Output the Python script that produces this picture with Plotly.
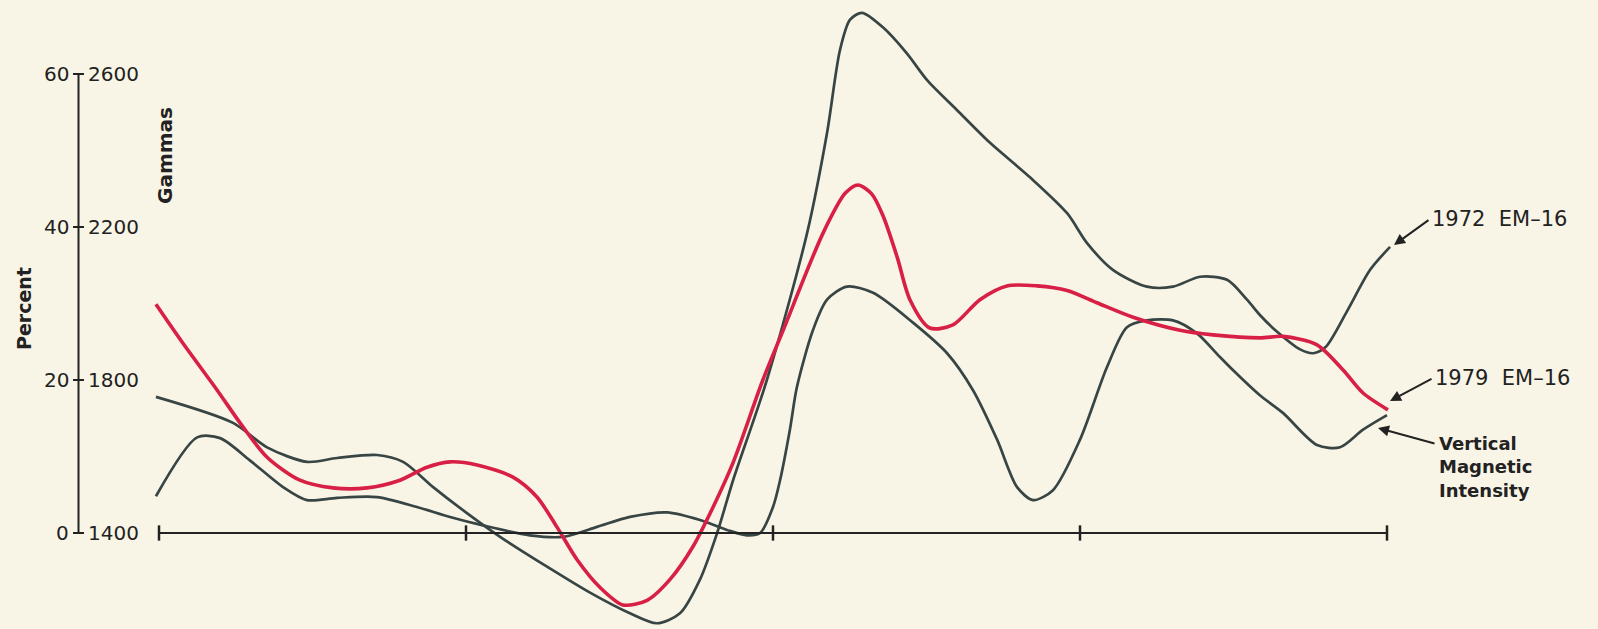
import plotly.graph_objects as go

# ---------------- data (x in axis-tick units 0..4, y in Percent) ----------------
red_x = [-0.01, 0.078, 0.189, 0.264, 0.352, 0.459, 0.567, 0.678, 0.785, 0.873, 0.948, 1.036,
         1.153, 1.231, 1.296, 1.362, 1.436, 1.511, 1.590, 1.664, 1.739, 1.805, 1.870, 1.967,
         2.033, 2.163, 2.235, 2.277, 2.322, 2.358, 2.405, 2.446, 2.511, 2.586, 2.674, 2.762,
         2.860, 2.958, 3.055, 3.173, 3.326, 3.433, 3.586, 3.661, 3.772, 3.857, 3.922, 4.003]
red_y = [29.9, 24.8, 18.7, 14.4, 9.9, 6.9, 5.9, 5.9, 6.9, 8.6, 9.3, 8.9,
         7.3, 4.7, 0.8, -3.5, -7.1, -9.4, -8.8, -6.1, -1.8, 3.4, 9.2, 20.0,
         26.5, 39.2, 44.4, 45.5, 44.3, 41.5, 36.0, 30.5, 26.8, 27.2, 30.5, 32.3,
         32.3, 31.7, 30.1, 28.2, 26.5, 25.9, 25.5, 25.7, 24.6, 21.3, 18.3, 16.1]

em72_x = [-0.01, 0.241, 0.352, 0.482, 0.580, 0.710, 0.795, 0.893, 1.003, 1.111, 1.264, 1.404,
          1.534, 1.622, 1.697, 1.762, 1.818, 1.870, 1.980, 2.111, 2.176, 2.218, 2.251, 2.290,
          2.358, 2.436, 2.502, 2.599, 2.707, 2.837, 2.958, 3.023, 3.107, 3.218, 3.303, 3.391,
          3.479, 3.544, 3.586, 3.642, 3.717, 3.760, 3.800, 3.870, 3.945, 4.010]
em72_y = [17.8, 14.4, 11.2, 9.3, 9.8, 10.2, 9.3, 6.0, 2.6, -0.5, -4.4, -7.8,
          -10.5, -11.8, -10.5, -6.1, 0.0, 6.9, 20.0, 39.2, 52.3, 63.1, 67.1, 68.0,
          66.1, 62.7, 59.2, 55.3, 51.0, 46.5, 41.8, 37.9, 34.4, 32.2, 32.2, 33.5,
          33.1, 30.5, 28.5, 26.3, 24.0, 23.5, 24.3, 29.0, 34.4, 37.4]

vmi_x = [-0.01, 0.124, 0.199, 0.296, 0.404, 0.482, 0.580, 0.710, 0.840, 0.948, 1.055, 1.208,
         1.316, 1.427, 1.534, 1.655, 1.762, 1.850, 1.915, 1.958, 2.000, 2.023, 2.055, 2.078,
         2.130, 2.176, 2.241, 2.326, 2.456, 2.567, 2.651, 2.730, 2.795, 2.847, 2.912, 3.000,
         3.088, 3.153, 3.218, 3.303, 3.381, 3.456, 3.498, 3.586, 3.661, 3.772, 3.847, 3.922, 4.000]
vmi_y = [4.8, 12.5, 12.4, 9.5, 6.0, 4.3, 4.6, 4.7, 3.4, 2.1, 1.0, -0.3,
         -0.5, 0.8, 2.1, 2.7, 1.7, 0.4, -0.3, 0.0, 3.4, 6.9, 13.5, 19.1,
         26.5, 30.5, 32.2, 31.4, 27.5, 23.5, 18.7, 12.2, 6.0, 4.3, 5.6, 12.2,
         21.7, 26.9, 27.8, 27.8, 26.1, 23.0, 21.3, 18.0, 15.7, 11.5, 11.2, 13.5, 15.4]

percent_ticks = [0, 20, 40, 60]
gamma_ticks = ["1400", "1800", "2200", "2600"]
x_ticks = [0, 1, 2, 3, 4]
series_labels = ["1972&nbsp; EM–16", "1979&nbsp; EM–16", "Vertical<br>Magnetic<br>Intensity"]

# ---------------- layout geometry ----------------
W, H = 1598, 629
X0_PX, X_UNIT = 159.0, 307.0      # pixel of x=0, pixels per x unit
Y0_PX, Y_UNIT = 533.0, 7.65       # pixel of y=0, pixels per percent
xr = [(0 - X0_PX) / X_UNIT, (W - X0_PX) / X_UNIT]
yr = [(Y0_PX - H) / Y_UNIT, (Y0_PX - 0) / Y_UNIT]

def px(p):   # pixel -> data x
    return (p - X0_PX) / X_UNIT

def py(p):   # pixel -> data y
    return (Y0_PX - p) / Y_UNIT

BG = "#f9f5e6"
GRAY = "#384545"
RED = "#d81f45"
INK = "#222222"
FONT = "DejaVu Sans"

fig = go.Figure()
fig.add_trace(go.Scatter(x=em72_x, y=em72_y, mode="lines",
                         line=dict(color=GRAY, width=2.7, shape="spline", smoothing=0.8)))
fig.add_trace(go.Scatter(x=vmi_x, y=vmi_y, mode="lines",
                         line=dict(color=GRAY, width=2.7, shape="spline", smoothing=0.8)))
fig.add_trace(go.Scatter(x=red_x, y=red_y, mode="lines",
                         line=dict(color=RED, width=3.6, shape="spline", smoothing=0.8)))

shapes = []
# horizontal axis line and ticks
shapes.append(dict(type="line", xref="x", yref="y", x0=x_ticks[0], x1=x_ticks[-1], y0=0, y1=0,
                   line=dict(color=INK, width=2)))
for t in x_ticks:
    shapes.append(dict(type="line", xref="x", yref="y", x0=t, x1=t, y0=-1.0, y1=1.0,
                       line=dict(color=INK, width=2.5)))
# vertical axis line and crossbars
VX = px(78.5)
shapes.append(dict(type="line", xref="x", yref="y", x0=VX, x1=VX, y0=percent_ticks[0],
                   y1=percent_ticks[-1], line=dict(color=INK, width=2)))
for v in percent_ticks:
    shapes.append(dict(type="line", xref="x", yref="y", x0=px(73), x1=px(84), y0=v, y1=v,
                       line=dict(color=INK, width=2)))

ann = []
for v, g in zip(percent_ticks, gamma_ticks):
    ann.append(dict(x=px(71), y=v, xref="x", yref="y", text=str(v), showarrow=False,
                    xanchor="right", yanchor="middle", font=dict(family=FONT, size=20, color=INK)))
    ann.append(dict(x=px(86), y=v, xref="x", yref="y", text=g, showarrow=False,
                    xanchor="left", yanchor="middle", font=dict(family=FONT, size=20, color=INK)))

ann.append(dict(x=px(24), y=py(309), xref="x", yref="y", text="<b>Percent</b>", textangle=-90,
                showarrow=False, font=dict(family=FONT, size=19, color=INK)))
ann.append(dict(x=px(165), y=py(156), xref="x", yref="y", text="<b>Gammas</b>", textangle=-90,
                showarrow=False, font=dict(family=FONT, size=20, color=INK)))

# series labels
ann.append(dict(x=px(1430), y=py(219), xref="x", yref="y", text=series_labels[0], showarrow=False,
                xanchor="left", yanchor="middle", font=dict(family=FONT, size=21, color=INK)))
ann.append(dict(x=px(1433), y=py(378), xref="x", yref="y", text=series_labels[1], showarrow=False,
                xanchor="left", yanchor="middle", font=dict(family=FONT, size=21, color=INK)))
ann.append(dict(x=px(1437), y=py(467), xref="x", yref="y",
                text="<b>" + series_labels[2].replace("<br>", "</b><br><b>") + "</b>",
                showarrow=False, xanchor="left", yanchor="middle", align="left",
                font=dict(family=FONT, size=18, color=INK)))

# leader arrows (tip near curve end, tail near label)
for tip, tail in [((1394, 245), (1430, 219)), ((1390, 401), (1433, 378)), ((1378, 428), (1436, 444))]:
    ann.append(dict(x=px(tip[0]), y=py(tip[1]), xref="x", yref="y", text="", showarrow=True,
                    ax=tail[0] - tip[0], ay=tail[1] - tip[1], axref="pixel", ayref="pixel",
                    arrowhead=2, arrowsize=1.1, arrowwidth=2, arrowcolor=INK))

fig.update_layout(
    width=W, height=H, margin=dict(l=0, r=0, t=0, b=0, pad=0),
    paper_bgcolor=BG, plot_bgcolor=BG, showlegend=False,
    xaxis=dict(range=xr, visible=False, fixedrange=True),
    yaxis=dict(range=yr, visible=False, fixedrange=True),
    shapes=shapes, annotations=ann,
)
fig.write_html("out.html", config={"displayModeBar": False},
               post_script="document.body.style.margin='0';document.body.style.overflow='hidden';"
                           "document.body.style.background='" + BG + "';")
